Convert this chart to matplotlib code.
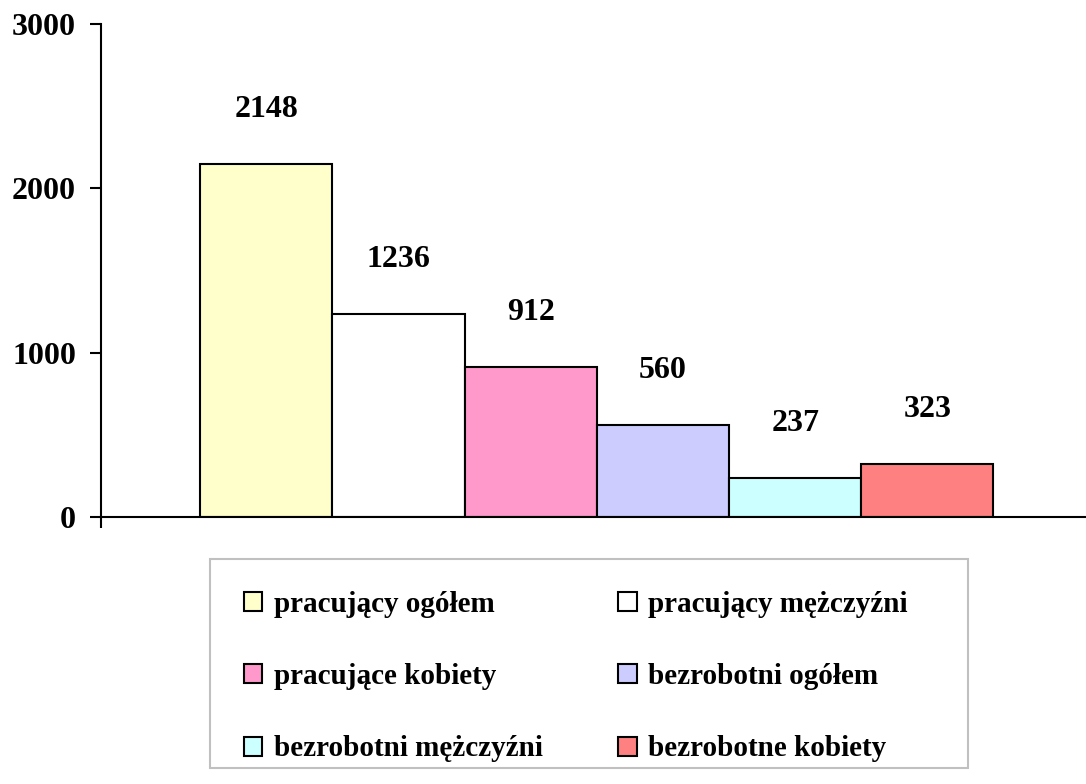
import matplotlib.pyplot as plt
from matplotlib.patches import Patch, Rectangle

# dane
labels = ['pracujący ogółem', 'pracujący mężczyźni', 'pracujące kobiety',
          'bezrobotni ogółem', 'bezrobotni mężczyźni', 'bezrobotne kobiety']
values = [2148, 1236, 912, 560, 237, 323]
colors = ['#FFFFCC', '#FFFFFF', '#FF99CC', '#CCCCFF', '#CCFFFF', '#FF8080']
yticks = [0, 1000, 2000, 3000]

plt.rcParams['font.family'] = ['Liberation Serif', 'DejaVu Serif']
plt.rcParams['font.weight'] = 'bold'

W, H = 1086, 784
fig = plt.figure(figsize=(W / 100, H / 100), dpi=100)
ax = fig.add_axes([101 / W, 1 - 517 / H, 1 - 101 / W, (517 - 24) / H])

pos = list(range(len(values)))
bars = ax.bar(pos, values, width=1.0, color=colors, edgecolor='black', linewidth=1.5)

# etykiety wartości
for x, v in zip(pos, values):
    ax.annotate(str(v), (x, v), xytext=(0, 29), textcoords='offset points',
                ha='center', va='bottom', fontsize=23, fontweight='bold')

ax.set_xlim(-1.25, 6.2)
ax.set_ylim(0, 3000)
ax.set_yticks(yticks)
ax.set_yticklabels([str(t) for t in yticks], fontsize=23, fontweight='bold')
ax.tick_params(axis='y', length=8, width=1.5, pad=10, direction='out')
ax.set_xticks([-1.25])
ax.set_xticklabels([''])
ax.tick_params(axis='x', length=8, width=1.5, direction='out')

for s in ['top', 'right']:
    ax.spines[s].set_visible(False)
ax.spines['left'].set_linewidth(1.5)
ax.spines['bottom'].set_linewidth(1.5)

# ramka legendy
fig.patches.append(Rectangle((210 / W, 1 - 768 / H), 758 / W, 209 / H,
                             transform=fig.transFigure, fill=False,
                             edgecolor='#C0C0C0', linewidth=1.5))

# legenda - kolejność wierszami
handles = [Patch(facecolor=c, edgecolor='black', linewidth=1.5) for c in colors]
h = [handles[i] for i in [0, 2, 4, 1, 3, 5]]
l = [labels[i] for i in [0, 2, 4, 1, 3, 5]]
leg = fig.legend(h, l, loc='upper left', ncol=2, frameon=False,
                 bbox_to_anchor=(244 / W, 1 - 591 / H),
                 bbox_transform=fig.transFigure, borderaxespad=0, borderpad=0,
                 handlelength=0.62, handleheight=0.62, handletextpad=0.4,
                 labelspacing=1.55, columnspacing=2.6,
                 prop={'weight': 'bold', 'size': 21})

fig.savefig('out.png', dpi=100)
